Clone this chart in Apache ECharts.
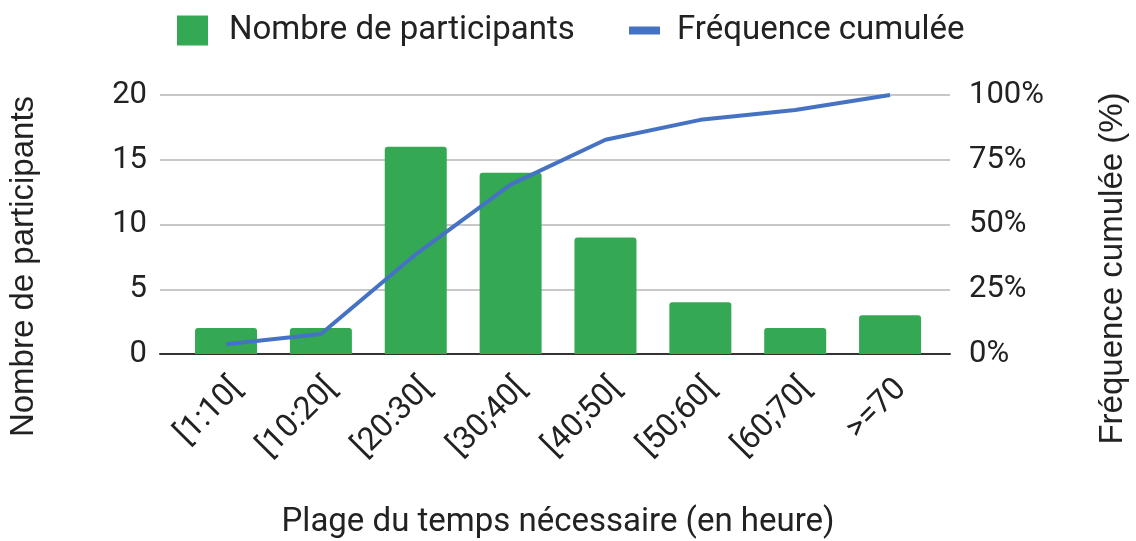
<!DOCTYPE html>
<html>
<head>
<meta charset="utf-8">
<script src="https://cdn.jsdelivr.net/npm/echarts@6/dist/echarts.min.js"></script>
<style>
  html, body { margin: 0; padding: 0; background: #fff; }
  #chart { width: 1136px; height: 541px; }
</style>
</head>
<body>
<div id="chart"></div>
<script>
  // data
  var categories = ['[1:10[', '[10:20[', '[20:30[', '[30;40[', '[40;50[', '[50;60[', '[60;70[', '>=70'];
  var participants = [2, 2, 16, 14, 9, 4, 2, 3];
  var cumulative = [3.8, 7.7, 38.5, 65.4, 82.7, 90.4, 94.2, 100];
  var leftTicks = [0, 20, 5];      // min, max, interval
  var rightTicks = [0, 100, 25];

  var font = 'Roboto';
  var textColor = '#222';

  var chart = echarts.init(document.getElementById('chart'));
  var option = {
    animation: false,
    legend: [
      {
        data: [{ name: 'Nombre de participants', icon: 'rect' }],
        left: 172, top: 9,
        itemWidth: 31, itemHeight: 30,
        textStyle: { fontFamily: font, fontSize: 33, color: textColor, padding: [0, 0, 0, 16] }
      },
      {
        data: [{ name: 'Fréquence cumulée', icon: 'rect' }],
        left: 624, top: 9,
        itemWidth: 31, itemHeight: 8,
        textStyle: { fontFamily: font, fontSize: 33, color: textColor, padding: [0, 0, 0, 12] }
      }
    ],
    grid: [
      // wide grid: gridlines and axis labels
      { left: 160, right: 186, top: 95, bottom: 187, outerBoundsMode: 'none' },
      // narrower grid: bars and line
      { left: 178.6, right: 198.5, top: 95, bottom: 187, outerBoundsMode: 'none' }
    ],
    xAxis: [
      {
        type: 'category', gridIndex: 0, data: [''],
        axisLine: { show: true, lineStyle: { color: '#333', width: 2 } },
        axisTick: { show: false }, axisLabel: { show: false }, splitLine: { show: false }
      },
      {
        type: 'category', gridIndex: 1, data: categories,
        axisLine: { show: false }, axisTick: { show: false },
        axisLabel: {
          rotate: 45, margin: 19, verticalAlign: 'top', interval: 0,
          fontFamily: font, fontSize: 32, color: textColor
        },
        name: 'Plage du temps nécessaire (en heure)',
        nameLocation: 'middle', nameGap: 152, nameMoveOverlap: false,
        nameTextStyle: { fontFamily: font, fontSize: 33, color: textColor }
      }
    ],
    yAxis: [
      {
        type: 'value', gridIndex: 0, min: leftTicks[0], max: leftTicks[1], interval: leftTicks[2],
        axisLine: { show: false }, axisTick: { show: false },
        axisLabel: { margin: 13, fontFamily: font, fontSize: 31, color: textColor },
        splitLine: { lineStyle: { color: '#c8c8c8', width: 2 } },
        name: 'Nombre de participants', nameLocation: 'middle', nameGap: 120, nameMoveOverlap: false,
        nameTextStyle: { fontFamily: 'Liberation Sans', fontSize: 33, color: textColor, padding: [0, 84, 0, 0] }
      },
      {
        type: 'value', gridIndex: 0, position: 'right', min: rightTicks[0], max: rightTicks[1], interval: rightTicks[2],
        axisLine: { show: false }, axisTick: { show: false },
        axisLabel: { margin: 19, formatter: '{value}%', fontFamily: font, fontSize: 31, color: textColor },
        splitLine: { show: false },
        name: 'Fréquence cumulée (%)', nameLocation: 'middle', nameGap: 146, nameMoveOverlap: false,
        nameTextStyle: { fontFamily: 'Liberation Sans', fontSize: 33, color: textColor, padding: [0, 88, 0, 0] }
      },
      {
        type: 'value', gridIndex: 1, min: leftTicks[0], max: leftTicks[1], show: false
      },
      {
        type: 'value', gridIndex: 1, min: rightTicks[0], max: rightTicks[1], show: false
      }
    ],
    series: [
      {
        name: 'Nombre de participants', type: 'bar',
        xAxisIndex: 1, yAxisIndex: 2,
        data: participants, barWidth: 62,
        itemStyle: { color: '#34a853', borderRadius: [3, 3, 0, 0] }
      },
      {
        name: 'Fréquence cumulée', type: 'line',
        xAxisIndex: 1, yAxisIndex: 3,
        data: cumulative, showSymbol: false, symbol: 'none',
        lineStyle: { color: '#4672c4', width: 4 },
        itemStyle: { color: '#4672c4' }
      }
    ]
  };
  chart.setOption(option);
</script>
</body>
</html>
